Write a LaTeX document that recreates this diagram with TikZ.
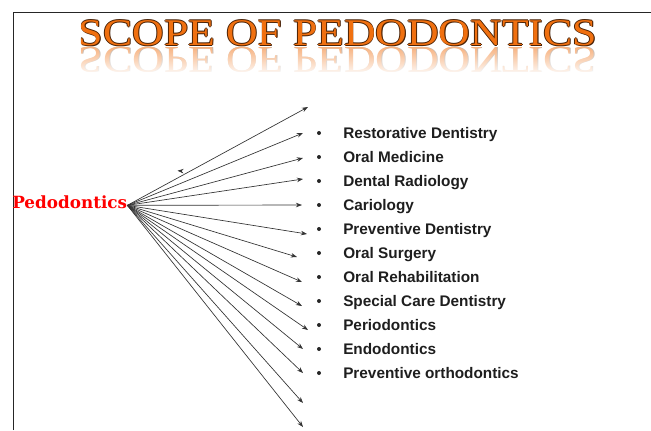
\documentclass[tikz,border=0pt]{standalone}
\usepackage{fontspec}
\setmainfont{Liberation Serif}
\newfontfamily\titlefont{Liberation Serif}
\newfontfamily\listfont{Liberation Sans}
\newfontfamily\rootfont{DejaVu Serif}
\usetikzlibrary{fadings, arrows.meta}
\definecolor{titleorange}{HTML}{F07010}
\definecolor{titleedge}{HTML}{4A2206}
\definecolor{itemgray}{HTML}{1E1E1E}
\tikzfading[name=fadedown, top color=transparent!100, bottom color=transparent!0]

\begin{document}
\begin{tikzpicture}[x=0.75pt, y=-0.75pt, >={Stealth[length=4.6pt, width=3.4pt]},
  titletext/.style={anchor=base, inner sep=0pt, xscale=1.16,
    font=\titlefont\fontsize{28.3}{30}\selectfont},
  branch/.style={->, draw=black!80, line width=0.5pt},
  dot/.style={circle, fill=black!85, inner sep=0pt, minimum size=3pt},
  item/.style={anchor=base west, inner sep=0pt, text=itemgray,
    font=\listfont\bfseries\fontsize{11.5}{13}\selectfont}]
  \useasboundingbox (0,0) rectangle (651,430);
  % frame (left and top edge only)
  \draw[line width=1.4pt, black!85] (13.5,430) -- (13.5,12.5) -- (651,12.5);
  % title with dark rim
  \node[titletext, text=titleedge] at (337.3,45) {SCOPE OF PEDODONTICS};
  \node[titletext, text=titleedge] at (338.9,45.4) {SCOPE OF PEDODONTICS};
  \node[titletext, text=titleedge] at (338,44.4) {SCOPE OF PEDODONTICS};
  \node[titletext, text=titleedge] at (338.4,46) {SCOPE OF PEDODONTICS};
  \node[titletext, text=titleorange] (title) at (338,45) {SCOPE OF PEDODONTICS};
  % mirrored title, fading out downwards
  \node[titletext, yscale=-1, text=titleedge!35] at (338.8,47) {SCOPE OF PEDODONTICS};
  \node[titletext, yscale=-1, text=titleorange!55] (mirror) at (338,47) {SCOPE OF PEDODONTICS};
  \fill[white, path fading=fadedown] (60,46) rectangle (620,76);
  % root
  \node[anchor=base west, inner sep=0pt, text=red,
        font=\rootfont\bfseries\fontsize{12.6}{14}\selectfont] (pedo) at (12,208) {Pedodontics};
  \coordinate (hub) at ([yshift=2pt]pedo.base east);
  % arrow ends
  \coordinate (e1) at (308,107);  \coordinate (e2) at (303,133);
  \coordinate (e3) at (303,158);  \coordinate (e4) at (303,179);
  \coordinate (e5) at (302,205);  \coordinate (e6) at (307,234);
  \coordinate (e7) at (297,257);  \coordinate (e8) at (302,282);
  \coordinate (e9) at (302,306);  \coordinate (e10) at (308,330);
  \coordinate (e11) at (303,349); \coordinate (e12) at (303,373);
  \coordinate (e13) at (303,403); \coordinate (e14) at (303,427);
  \draw[branch] (hub) -- (e1);  \draw[branch] (hub) -- (e2);
  \draw[branch] (hub) -- (e3);  \draw[branch] (hub) -- (e4);
  \draw[branch] (hub) -- (e5);  \draw[branch] (hub) -- (e6);
  \draw[branch] (hub) -- (e7);  \draw[branch] (hub) -- (e8);
  \draw[branch] (hub) -- (e9);  \draw[branch] (hub) -- (e10);
  \draw[branch] (hub) -- (e11); \draw[branch] (hub) -- (e12);
  \draw[branch] (hub) -- (e13); \draw[branch] (hub) -- (e14);
  % stray arrow head
  \coordinate (stray) at (181.5,171);
  \draw[branch] (stray) -- ++(-4,-0.3);
  % bullet list
  \node[dot] (b1) at (319,133) {};  \node[item] (restorative) at (343,138) {Restorative Dentistry};
  \node[dot] (b2) at (319,157) {};  \node[item] (oralmed) at (343,162) {Oral Medicine};
  \node[dot] (b3) at (319,181) {};  \node[item] (radiology) at (343,186) {Dental Radiology};
  \node[dot] (b4) at (319,205) {};  \node[item] (cariology) at (343,210) {Cariology};
  \node[dot] (b5) at (319,229) {};  \node[item] (prevdent) at (343,234) {Preventive Dentistry};
  \node[dot] (b6) at (319,253) {};  \node[item] (surgery) at (343,258) {Oral Surgery};
  \node[dot] (b7) at (319,277) {};  \node[item] (rehab) at (343,282) {Oral Rehabilitation};
  \node[dot] (b8) at (319,301) {};  \node[item] (specialcare) at (343,306) {Special Care Dentistry};
  \node[dot] (b9) at (319,325) {};  \node[item] (perio) at (343,330) {Periodontics};
  \node[dot] (b10) at (319,349) {}; \node[item] (endo) at (343,354) {Endodontics};
  \node[dot] (b11) at (319,373) {}; \node[item] (ortho) at (343,378) {Preventive orthodontics};
\end{tikzpicture}
\end{document}
